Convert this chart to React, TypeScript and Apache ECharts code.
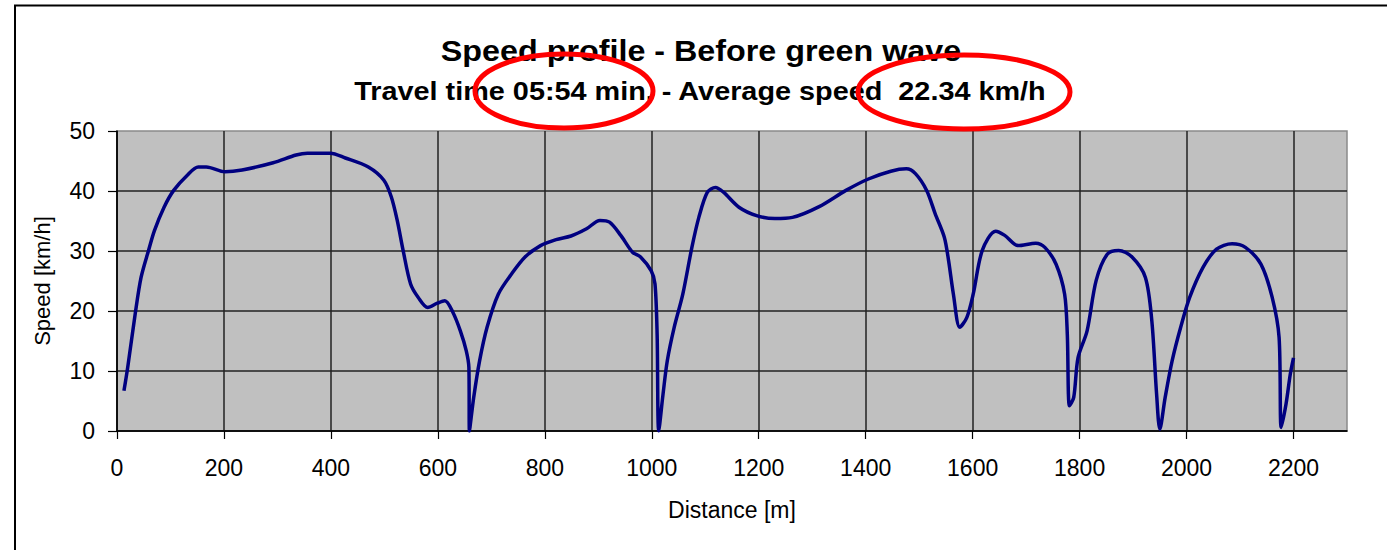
import React, { useEffect, useRef } from "react";
import * as echarts from "echarts";

const titleText = "Speed profile - Before green wave";
const subtitleText = "Travel time 05:54 min. - Average speed  22.34 km/h";
const xAxisName = "Distance [m]";
const yAxisName = "Speed [km/h]";

const xTicks = [0, 200, 400, 600, 800, 1000, 1200, 1400, 1600, 1800, 2000, 2200];
const yTicks = [0, 10, 20, 30, 40, 50];

const distance = [
  13, 20, 34, 45, 59, 70, 88, 106, 131, 152, 167, 202, 234, 292, 335, 356, 399, 427, 470, 499,
  513, 524, 535, 549, 563, 581, 599, 613, 628, 642, 653, 658, 659, 667, 678, 692, 713, 738, 763, 792,
  821, 849, 878, 903, 921, 942, 964, 979, 999, 1006, 1010, 1013, 1021, 1029, 1042, 1058, 1075, 1088, 1104, 1119,
  1134, 1163, 1196, 1230, 1263, 1313, 1363, 1405, 1447, 1476, 1493, 1514, 1530, 1547, 1555, 1564, 1576, 1589, 1601, 1618,
  1643, 1660, 1685, 1718, 1735, 1756, 1772, 1777, 1781, 1789, 1797, 1814, 1831, 1852, 1873, 1898, 1923, 1935, 1944, 1950,
  1960, 1973, 1989, 2006, 2031, 2056, 2085, 2110, 2139, 2160, 2173, 2177, 2186, 2194, 2200,
];

const speed = [
  6.7, 10.6, 19.5, 25.6, 30.1, 33.4, 37.3, 40.1, 42.6, 44.0, 44.0, 43.2, 43.5, 44.7, 46.0, 46.3, 46.3, 45.5, 44.0, 41.8,
  39.0, 35.1, 30.1, 24.5, 22.3, 20.6, 21.3, 21.7, 19.8, 16.7, 13.4, 10.6, 0, 5.6, 11.7, 17.3, 22.8, 26.2, 29.0, 30.9,
  31.9, 32.5, 33.7, 35.1, 34.8, 32.6, 29.8, 29.0, 26.7, 24.5, 16.1, 0, 6.1, 11.7, 17.3, 22.8, 30.6, 35.6, 39.8, 40.6,
  39.8, 37.3, 35.9, 35.4, 35.6, 37.4, 40.1, 42.0, 43.3, 43.7, 42.9, 40.1, 36.2, 32.3, 28.4, 22.8, 17.3, 18.9, 22.8, 30.1,
  33.3, 32.6, 30.9, 31.3, 30.6, 27.8, 22.8, 16.1, 4.2, 5.6, 12.2, 16.7, 25.1, 29.5, 30.1, 29.0, 25.6, 18.4, 6.1, 0.3,
  5.6, 11.7, 17.3, 22.3, 27.3, 30.3, 31.2, 30.6, 27.8, 22.3, 15.6, 0.6, 4.5, 9.5, 12.2,
];

const FONT = "'Liberation Sans', Arial, sans-serif";

export default function App() {
  const ref = useRef<HTMLDivElement>(null);

  useEffect(() => {
    if (!ref.current) return;
    const chart = echarts.init(ref.current, undefined, { renderer: "svg" });
    const data = distance.map((d, i) => [d, speed[i]]);
    chart.setOption({
      animation: false,
      backgroundColor: "#ffffff",
      grid: {
        left: 117,
        top: 131,
        width: 1230,
        height: 300,
        show: true,
        backgroundColor: "#c0c0c0",
        borderColor: "#8a8a8a",
        borderWidth: 1.5,
      },
      xAxis: {
        type: "value",
        min: 0,
        max: 2300,
        interval: 200,
        name: xAxisName,
        nameLocation: "middle",
        nameGap: 67,
        nameTextStyle: { fontFamily: FONT, fontSize: 23, color: "#000" },
        axisLine: { show: true, onZero: false, lineStyle: { color: "#000", width: 1.5 } },
        axisTick: { show: true, length: 8, lineStyle: { color: "#000", width: 1.2 }, customValues: xTicks },
        axisLabel: {
          fontFamily: FONT,
          fontSize: 23,
          color: "#000",
          margin: 25,
          customValues: xTicks,
          formatter: (v: number) => String(v),
        },
        splitLine: { show: true, lineStyle: { color: "#222", width: 1.5 } },
      },
      yAxis: {
        type: "value",
        min: yTicks[0],
        max: yTicks[yTicks.length - 1],
        interval: 10,
        name: yAxisName,
        nameLocation: "middle",
        nameGap: 64,
        nameTextStyle: { fontFamily: FONT, fontSize: 22, color: "#000" },
        axisLine: { show: true, onZero: false, lineStyle: { color: "#000", width: 1.5 } },
        axisTick: { show: true, length: 9, lineStyle: { color: "#000", width: 1.2 } },
        axisLabel: { fontFamily: FONT, fontSize: 23, color: "#000", margin: 22 },
        splitLine: { show: true, showMaxLine: false, lineStyle: { color: "#222", width: 1.5 } },
      },
      series: [
        {
          type: "line",
          data,
          showSymbol: false,
          smooth: 0.3,
          lineStyle: { color: "#000080", width: 3.5 },
          clip: true,
        },
      ],
      graphic: [
        {
          type: "polyline",
          shape: { points: [[15, 550], [15, 5.5], [1387, 5.5]] },
          style: { stroke: "#000", lineWidth: 2, fill: "none" },
          z: 1,
        },
        {
          type: "text",
          x: 701,
          y: 51,
          scaleX: 1.077,
          style: {
            text: titleText,
            fontFamily: FONT,
            fontSize: 30,
            fontWeight: "bold",
            fill: "#000",
            align: "center",
            verticalAlign: "middle",
          },
          z: 10,
        },
        {
          type: "text",
          x: 700,
          y: 91,
          scaleX: 1.109,
          style: {
            text: subtitleText,
            fontFamily: FONT,
            fontSize: 26,
            fontWeight: "bold",
            fill: "#000",
            align: "center",
            verticalAlign: "middle",
          },
          z: 10,
        },
        {
          type: "ellipse",
          shape: { cx: 564, cy: 91, rx: 89, ry: 37 },
          style: { stroke: "#ff0000", lineWidth: 5, fill: "none" },
          z: 20,
        },
        {
          type: "ellipse",
          shape: { cx: 964, cy: 92, rx: 106, ry: 37 },
          style: { stroke: "#ff0000", lineWidth: 5, fill: "none" },
          z: 20,
        },
      ],
    });
    return () => chart.dispose();
  }, []);

  return (
    <div
      ref={ref}
      style={{ position: "absolute", left: 0, top: 0, width: 1387, height: 550 }}
    />
  );
}
